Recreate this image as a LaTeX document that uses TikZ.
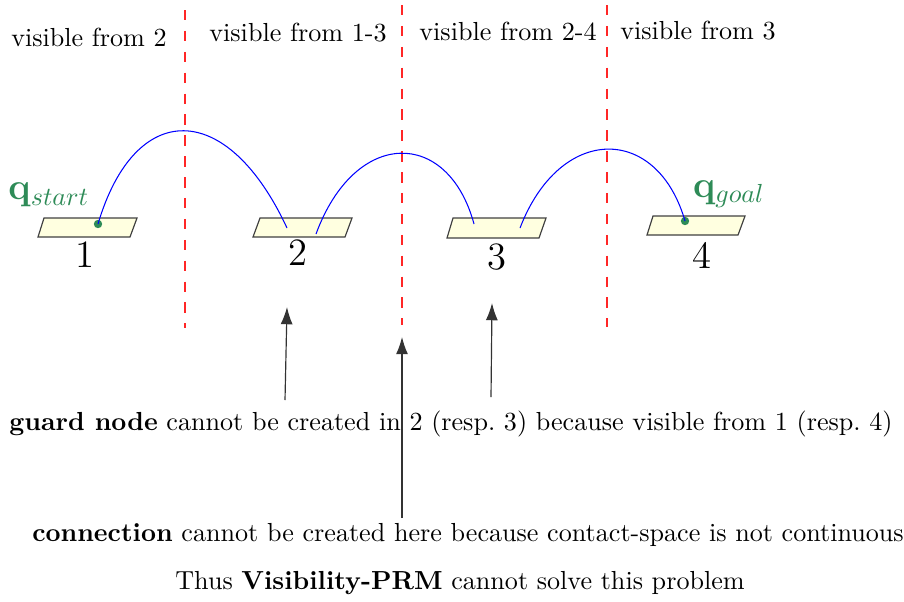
\documentclass[tikz,border=0pt]{standalone}
\usetikzlibrary{arrows.meta}
\definecolor{platfill}{RGB}{255,255,224}
\definecolor{qgreen}{RGB}{46,139,87}
\begin{document}
\begin{tikzpicture}[x=0.383pt,y=-0.383pt,
  plat/.style={draw=black!75,fill=platfill,line width=0.45pt},
  sep/.style={red!85,line width=0.4pt,dash pattern=on 4pt off 4pt},
  traj/.style={blue,line width=0.4pt},
  ptr/.style={black!80,line width=0.45pt,-{Latex[length=6.6pt,width=4.6pt]}},
  numlab/.style={font=\fontsize{14.8}{17}\selectfont,inner sep=0pt},
  dot/.style={circle,fill=qgreen,inner sep=0pt,minimum size=3.2pt},
  txt/.style={inner sep=0pt}]
\useasboundingbox (0,0) rectangle (904,601);
% separators
\draw[sep] (185,10) -- (185,328);
\draw[sep] (402,5) -- (402,325);
\draw[sep] (607,5) -- (607,327);
% top labels
\node[txt] (v1) at (89,37) {visible from 2};
\node[txt] (v2) at (298,33) {visible from 1-3};
\node[txt] (v3) at (508,31) {visible from 2-4};
\node[txt] (v4) at (698,31) {visible from 3};
% platforms
\draw[plat] (44,218) -- (137,218) -- (130,237) -- (38,237) -- cycle;
\draw[plat] (260,218) -- (352,218) -- (345,237) -- (253,237) -- cycle;
\draw[plat] (453,218) -- (546,218) -- (539,238) -- (447,238) -- cycle;
\draw[plat] (653,216) -- (745,216) -- (738,235) -- (647,235) -- cycle;
\node[numlab] (n1) at (85,255) {1};
\node[numlab] (n2) at (298,253) {2};
\node[numlab] (n3) at (497,257) {3};
\node[numlab] (n4) at (702,255) {4};
% configurations
\coordinate (c2a) at (287,228);
\coordinate (c2b) at (316,234);
\coordinate (c3a) at (474,224);
\coordinate (c3b) at (520,228);
\node[dot] (start) at (98,224) {};
\node[dot] (goal) at (685,221) {};
\node[txt,text=qgreen,font=\Large] (qs) at (49,195) {$\mathbf{q}_{start}$};
\node[txt,text=qgreen,font=\Large] (qg) at (729,194) {$\mathbf{q}_{goal}$};
% trajectories
\draw[traj] (start.center) .. controls (135,99) and (227,99) .. (c2a);
\draw[traj] (c2b) .. controls (355,128) and (448,128) .. (c3a);
\draw[traj] (c3b) .. controls (560,124) and (657,124) .. (goal.center);
% pointers
\coordinate (t1) at (285,400);
\coordinate (h1) at (287,307);
\coordinate (t2) at (402,518);
\coordinate (h2) at (402,337);
\coordinate (t3) at (491,397);
\coordinate (h3) at (492,303);
\draw[ptr] (t1) -- (h1);
\draw[ptr] (t2) -- (h2);
\draw[ptr] (t3) -- (h3);
% texts
\node[txt] (g) at (451,424) {\textbf{guard node} cannot be created in 2 (resp.~3) because visible from 1 (resp.~4)};
\node[txt] (c) at (468,535) {\textbf{connection} cannot be created here because contact-space is not continuous};
\node[txt] (th) at (460,583) {Thus \textbf{Visibility-PRM} cannot solve this problem};
\end{tikzpicture}
\end{document}
